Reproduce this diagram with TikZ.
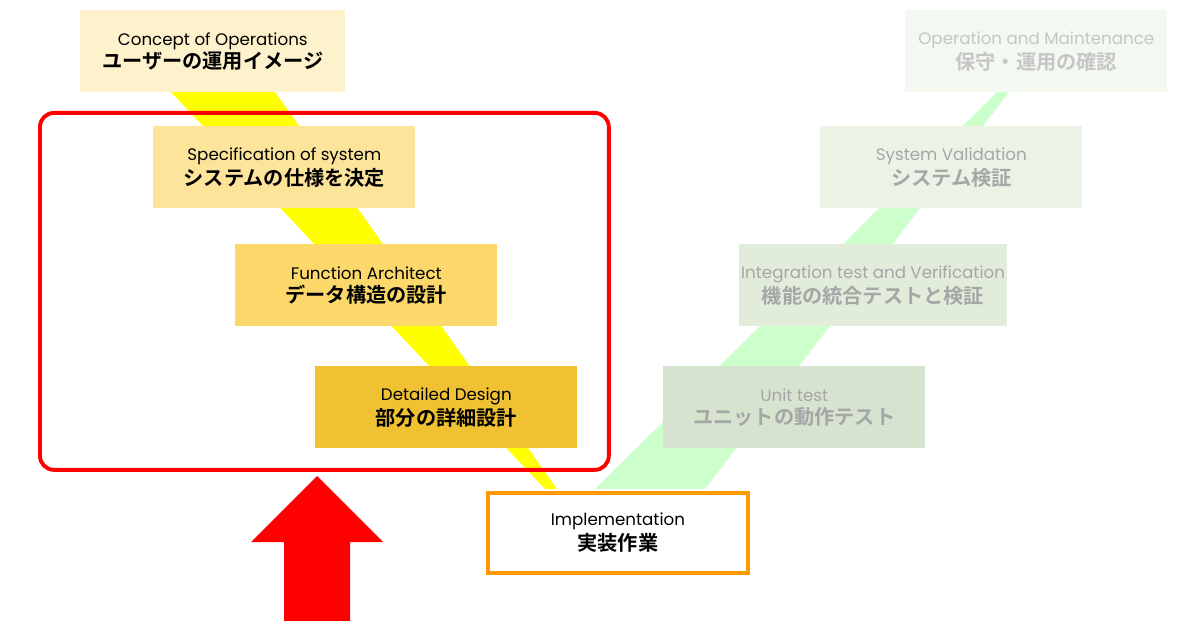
\documentclass[tikz,border=0pt]{standalone}
\usepackage{fontspec}
\setmainfont{Poppins}
\newfontfamily\jpfont{Noto Sans CJK JP}[BoldFont={Noto Sans CJK JP Bold}]
\usetikzlibrary{positioning}
\definecolor{conopsfill}{HTML}{FEF2CD}
\definecolor{specfill}{HTML}{FDE49B}
\definecolor{funcfill}{HTML}{FCD86B}
\definecolor{detfill}{HTML}{F0C233}
\definecolor{unitfill}{HTML}{D6E4CF}
\definecolor{integfill}{HTML}{E1EDDA}
\definecolor{valfill}{HTML}{EAF3E6}
\definecolor{omfill}{HTML}{F3F8F1}
\definecolor{vband}{HTML}{FFFF00}
\definecolor{gband}{HTML}{CCFFCC}
\definecolor{implline}{HTML}{FF9900}
\definecolor{grey}{HTML}{A6A6A6}
\definecolor{lightgrey}{HTML}{C6C6C6}
\newcommand{\stagetext}[2]{{\fontsize{9.5}{12}\selectfont #1}\\[1pt]{\jpfont\bfseries\fontsize{11.5}{14}\selectfont #2}}

\begin{document}
\begin{tikzpicture}[x=0.02cm, y=-0.02cm,
	stage/.style={anchor=north west, minimum width=5.24cm, minimum height=1.64cm, align=center, inner sep=1pt},
	]
	\useasboundingbox (0,0) rectangle (1200,621);

	% bands behind the boxes
	\fill[vband] (171,92) -- (275,92) -- (557,489) -- (545,489) -- cycle;
	\fill[gband] (997,92) -- (1009,92) -- (705,489) -- (595,489) -- cycle;

	% left side of the V
	\node[stage, fill=conopsfill, minimum width=5.3cm] (conops) at (80,10) {\stagetext{Concept of Operations}{ユーザーの運用イメージ}};
	\node[stage, fill=specfill] (spec) at (153,126) {\stagetext{Specification of system}{システムの仕様を決定}};
	\node[stage, fill=funcfill] (func) at (235,244) {\stagetext{Function Architect}{データ構造の設計}};
	\node[stage, fill=detfill] (detail) at (315,366) {\stagetext{Detailed Design}{部分の詳細設計}};

	% bottom
	\node[stage, draw=implline, line width=2.2pt, fill=white, minimum width=5.2cm, minimum height=1.6cm] (impl) at (486,491) {\stagetext{Implementation}{実装作業}};

	% right side of the V
	\node[stage, fill=unitfill, text=grey] (unit) at (663,366) {\stagetext{Unit test}{ユニットの動作テスト}};
	\node[stage, fill=integfill, text=grey] (integ) at (739,244) {\stagetext{Integration test and Verification}{機能の統合テストと検証}};
	\node[stage, fill=valfill, text=grey] (valid) at (820,126) {\stagetext{System Validation}{システム検証}};
	\node[stage, fill=omfill, text=lightgrey] (om) at (905,10) {\stagetext{Operation and Maintenance}{保守・運用の確認}};

	% highlight frame and arrow
	\node[draw=red, line width=2.2pt, rounded corners=8pt, minimum width=11.38cm, minimum height=7.14cm, anchor=north west] (focus) at (38,111) {};
	\fill[red] (284,621) -- (284,542) -- (251,542) -- (317,476) -- (383,542) -- (350,542) -- (350,621) -- cycle;
\end{tikzpicture}
\end{document}
